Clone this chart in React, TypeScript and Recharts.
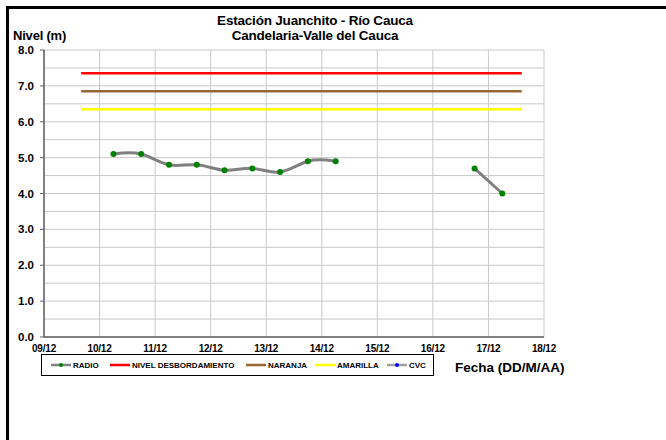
import React from "react";
import { LineChart, Line, XAxis, YAxis, CartesianGrid } from "recharts";

// ---- data ----
const dayTicks = [0, 1, 2, 3, 4, 5, 6, 7, 8, 9];
const dayLabels = ["09/12", "10/12", "11/12", "12/12", "13/12", "14/12", "15/12", "16/12", "17/12", "18/12"];
const levelTicks = [0, 0.5, 1, 1.5, 2, 2.5, 3, 3.5, 4, 4.5, 5, 5.5, 6, 6.5, 7, 7.5, 8];

const radioDays = [1.25, 1.75, 2.25, 2.75, 3.25, 3.75, 4.25, 4.75, 5.25, 5.75, 6.25, 6.75, 7.25, 7.75, 8.25];
const radioLevels: (number | null)[] = [5.1, 5.1, 4.8, 4.8, 4.65, 4.7, 4.6, 4.9, 4.9, null, null, null, null, 4.7, 4.0];

const thresholdDays = [0.67, 8.6];
const desbordamientoLevel = [7.35, 7.35];
const naranjaLevel = [6.85, 6.85];
const amarillaLevel = [6.35, 6.35];

const radioData = radioDays.map((d, i) => ({ d, v: radioLevels[i] }));
const desbData = thresholdDays.map((d, i) => ({ d, v: desbordamientoLevel[i] }));
const naranjaData = thresholdDays.map((d, i) => ({ d, v: naranjaLevel[i] }));
const amarillaData = thresholdDays.map((d, i) => ({ d, v: amarillaLevel[i] }));

const FONT = "'Liberation Sans', Arial, sans-serif";

const YTick = (props: any) => {
  const { x, y, payload } = props;
  const v = payload.value;
  if (Math.abs(v - Math.round(v)) > 1e-6) return <g />;
  return (
    <g>
      <line x1={x - 4} x2={x} y1={y} y2={y} stroke="#606060" strokeWidth={1} />
      <text x={x - 10} y={y} dy={4} textAnchor="end" fontFamily={FONT} fontWeight="bold" fontSize={11.5} fill="#000">
        {v.toFixed(1)}
      </text>
    </g>
  );
};

const XTick = (props: any) => {
  const { x, y, payload } = props;
  return (
    <text x={x} y={y} dy={13} textAnchor="middle" fontFamily={FONT} fontWeight="bold" fontSize={10} letterSpacing={-0.2} fill="#000">
      {dayLabels[payload.value]}
    </text>
  );
};

const legendItems = [
  { name: "RADIO", color: "#808080", dot: "#008000", left: 51 },
  { name: "NIVEL DESBORDAMIENTO", color: "#FF0000", left: 110 },
  { name: "NARANJA", color: "#996633", left: 246 },
  { name: "AMARILLA", color: "#FFFF00", left: 315 },
  { name: "CVC", color: "#A0A0A0", dot: "#0000FF", left: 387 },
];

export default function App() {
  return (
    <div style={{ position: "absolute", left: 0, top: 0, width: 666, height: 440, overflow: "hidden", background: "#fff", fontFamily: FONT }}>
      <div style={{ position: "absolute", left: 6, top: 6, width: 800, height: 600, borderLeft: "3px solid #000", borderTop: "3px solid #000" }} />
      <div style={{ position: "absolute", left: 15, top: 13, width: 600, textAlign: "center", fontWeight: "bold", fontSize: 13.5, lineHeight: "15px", letterSpacing: -0.2 }}>
        <div>Estación Juanchito - Río Cauca</div>
        <div>Candelaria-Valle del Cauca</div>
      </div>
      <div style={{ position: "absolute", left: 13, top: 28, fontWeight: "bold", fontSize: 13, letterSpacing: -0.2 }}>Nivel (m)</div>
      <LineChart width={666} height={440} margin={{ top: 50, right: 122, bottom: 83, left: 4 }} style={{ position: "absolute", left: 0, top: 0 }}>
        <CartesianGrid stroke="#c8c8c8" strokeWidth={1} />
        <XAxis
          type="number"
          dataKey="d"
          domain={[0, 9]}
          ticks={dayTicks}
          interval={0}
          tick={<XTick />}
          tickLine={false}
          tickSize={0}
          height={20}
          axisLine={{ stroke: "#606060", strokeWidth: 1.5 }}
          allowDuplicatedCategory={false}
        />
        <YAxis
          type="number"
          domain={[0, 8]}
          ticks={levelTicks}
          interval={0}
          tick={<YTick />}
          tickLine={false}
          tickSize={0}
          tickMargin={0}
          width={40}
          axisLine={{ stroke: "#606060", strokeWidth: 1.5 }}
        />
        <Line data={desbData} dataKey="v" stroke="#FF0000" strokeWidth={2.5} dot={false} isAnimationActive={false} />
        <Line data={naranjaData} dataKey="v" stroke="#996633" strokeWidth={2.5} dot={false} isAnimationActive={false} />
        <Line data={amarillaData} dataKey="v" stroke="#FFFF00" strokeWidth={2.5} dot={false} isAnimationActive={false} />
        <Line
          data={radioData}
          dataKey="v"
          type="natural"
          stroke="#808080"
          strokeWidth={3}
          connectNulls={false}
          dot={{ r: 3, fill: "#008000", stroke: "#008000", strokeWidth: 0 }}
          isAnimationActive={false}
        />
      </LineChart>
      <div style={{ position: "absolute", left: 41, top: 354, width: 391, height: 20, border: "1px solid #000", boxSizing: "content-box" }} />
      {legendItems.map((it) => (
        <div key={it.name} style={{ position: "absolute", left: it.left, top: 359, height: 12, display: "flex", alignItems: "center", whiteSpace: "nowrap", fontWeight: "bold", fontSize: 8 }}>
          <svg width={20} height={8} style={{ marginRight: 2, display: "block" }}>
            <line x1={0} x2={20} y1={4} y2={4} stroke={it.color} strokeWidth={2.5} />
            {it.dot ? <circle cx={10} cy={4} r={2} fill={it.dot} /> : null}
          </svg>
          <span>{it.name}</span>
        </div>
      ))}
      <div style={{ position: "absolute", left: 455, top: 360, fontWeight: "bold", fontSize: 13.5, whiteSpace: "nowrap" }}>Fecha (DD/M/AA)</div>
    </div>
  );
}
